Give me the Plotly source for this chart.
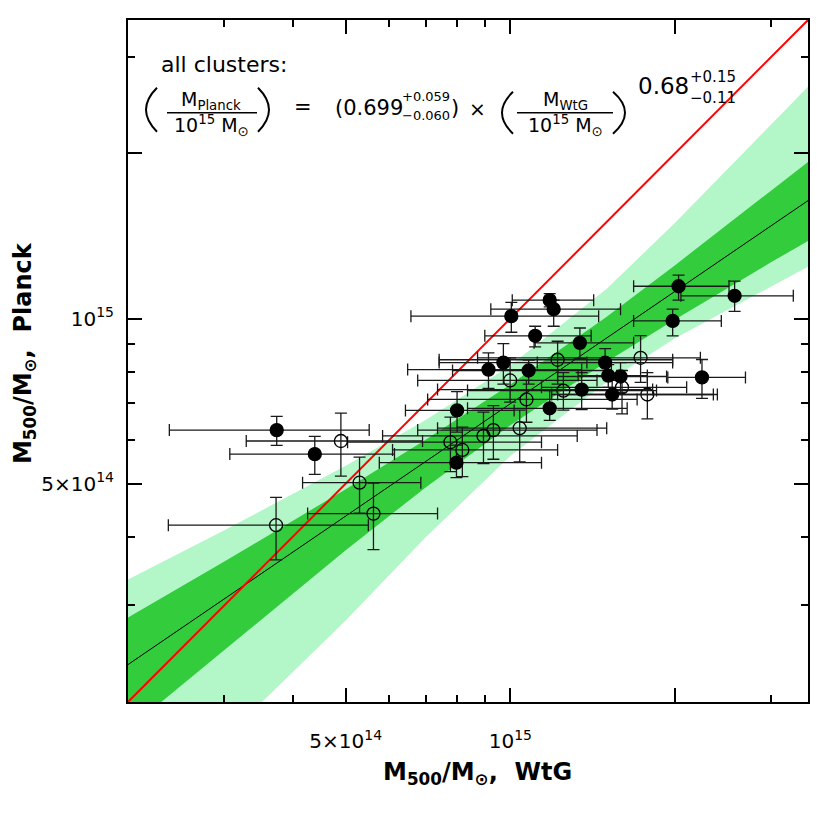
import numpy as np
import plotly.graph_objects as go

# masses in units of 1e14 Msun
# filled symbols
fill_x = [3.74, 4.39, 7.99, 7.97, 9.12, 9.71, 10.04, 11.8, 12.0, 11.1, 10.8, 13.4, 14.9, 15.1, 15.9, 13.5, 15.35, 11.8, 20.3, 19.8, 25.7, 22.4]
fill_xlo = [2.38, 3.07, 6.43, 5.76, 6.49, 7.41, 6.58, 10.08, 9.21, 8.98, 7.84, 11.05, 11.2, 13.3, 12.2, 7.36, 12.2, 8.35, 16.8, 16.8, 20.5, 19.4]
fill_xhi = [5.52, 6.14, 10.16, 11.4, 13.5, 13.8, 14.5, 14.2, 15.9, 14.05, 15.3, 16.8, 19.8, 17.8, 19.3, 18.2, 23.5, 16.35, 25.1, 24.3, 32.9, 26.9]
fill_y = [6.26, 5.66, 6.80, 5.46, 8.07, 8.31, 10.1, 10.8, 10.4, 9.30, 8.04, 9.03, 8.31, 7.87, 7.84, 7.42, 7.27, 6.86, 11.45, 9.90, 11.0, 7.81]
fill_ylo = [5.87, 5.20, 6.21, 5.13, 7.46, 7.59, 9.44, 10.5, 9.68, 8.88, 7.59, 8.45, 7.87, 7.49, 7.33, 6.82, 6.84, 6.52, 10.8, 9.30, 10.3, 7.15]
fill_yhi = [6.63, 6.10, 7.36, 5.88, 8.66, 9.00, 10.7, 11.1, 10.8, 9.68, 8.40, 9.61, 8.81, 8.24, 8.31, 7.97, 7.71, 7.39, 12.0, 10.4, 11.7, 8.42]

# open symbols
open_x = [4.90, 5.30, 5.62, 3.73, 7.77, 8.17, 8.93, 9.31, 10.4, 10.7, 12.5, 12.2, 17.3, 16.0, 17.8, 9.99]
open_xlo = [3.29, 4.17, 4.26, 2.37, 5.04, 6.09, 5.84, 6.77, 7.36, 7.06, 8.35, 7.41, 8.71, 11.4, 11.9, 6.77]
open_xhi = [6.91, 6.86, 7.36, 5.50, 11.4, 12.2, 13.25, 14.4, 15.0, 17.05, 18.5, 19.8, 22.25, 21.0, 23.9, 14.4]
open_y = [5.98, 5.02, 4.41, 4.20, 5.95, 5.76, 6.11, 6.26, 6.31, 7.12, 7.39, 8.41, 8.48, 7.49, 7.27, 7.71]
open_ylo = [5.16, 4.42, 3.79, 3.63, 5.26, 5.15, 5.44, 5.54, 5.48, 6.47, 6.81, 7.59, 7.65, 6.70, 6.56, 7.04]
open_yhi = [6.72, 5.59, 5.01, 4.72, 6.61, 6.34, 6.75, 6.94, 6.81, 7.71, 7.97, 9.09, 9.31, 8.04, 7.97, 8.48]

# fit and confidence bands (1e14 Msun)
band_x = [2, 3, 5, 7, 10, 15, 20, 30, 35]
dark_hi = [2.852, 3.605, 4.884, 6.014, 7.577, 10.07, 12.51, 17.10, 19.29]
dark_lo = [1.783, 2.494, 3.783, 4.921, 6.389, 8.341, 9.959, 12.67, 13.85]
light_hi = [3.343, 4.111, 5.393, 6.532, 8.214, 11.33, 14.94, 22.59, 26.45]
light_lo = [1.200, 1.714, 2.817, 3.991, 5.617, 7.659, 9.209, 11.45, 12.43]
fit_x = [2.0, 35.0]
fit_y = [2.34, 16.4]
one_x = [2.0, 35.0]
one_y = [2.0, 35.0]

E14 = 1e14
OFF = 8  # page margin of the html body
W, H = 814, 814
L, T = 120, 10
PW, PH = 680, 684
R, B = W - L - PW, H - T - PH


def px(x):
    return (x - OFF - L) / PW


def py(y):
    return (H - B - (y - OFF)) / PH


def sc(a):
    return [v * E14 for v in a]


fig = go.Figure()

bx = sc(band_x)
fig.add_trace(go.Scatter(x=bx + bx[::-1], y=sc(light_hi) + sc(light_lo)[::-1], fill="toself",
                         fillcolor="#b3f7c9", line=dict(width=0), mode="lines", hoverinfo="skip"))
fig.add_trace(go.Scatter(x=bx + bx[::-1], y=sc(dark_hi) + sc(dark_lo)[::-1], fill="toself",
                         fillcolor="#33cc3d", line=dict(width=0), mode="lines", hoverinfo="skip"))
fig.add_trace(go.Scatter(x=sc(fit_x), y=sc(fit_y), mode="lines", line=dict(color="black", width=1)))
fig.add_trace(go.Scatter(x=sc(one_x), y=sc(one_y), mode="lines", line=dict(color="#ff0000", width=2)))


def pts(x, xlo, xhi, y, ylo, yhi, symbol):
    return go.Scatter(
        x=sc(x), y=sc(y), mode="markers",
        marker=dict(symbol=symbol, size=13, color="black", line=dict(color="black", width=1.3)),
        error_x=dict(type="data", symmetric=False,
                     array=[(b - a) * E14 for a, b in zip(x, xhi)],
                     arrayminus=[(a - b) * E14 for a, b in zip(x, xlo)],
                     color="#1a1a1a", thickness=1.3, width=6),
        error_y=dict(type="data", symmetric=False,
                     array=[(b - a) * E14 for a, b in zip(y, yhi)],
                     arrayminus=[(a - b) * E14 for a, b in zip(y, ylo)],
                     color="#1a1a1a", thickness=1.3, width=6),
    )


fig.add_trace(pts(open_x, open_xlo, open_xhi, open_y, open_ylo, open_yhi, "circle-open"))
fig.add_trace(pts(fill_x, fill_xlo, fill_xhi, fill_y, fill_ylo, fill_yhi, "circle"))

major = [5e14, 1e15, 2e15]
labels = ["5×10<sup>14</sup>", "10<sup>15</sup>", ""]
minor = [3e14, 4e14, 6e14, 7e14, 8e14, 9e14, 3e15]
axis = dict(type="log", range=[np.log10(2e14), np.log10(3.5e15)], showgrid=False, zeroline=False,
            showline=True, linecolor="black", linewidth=2, mirror="allticks",
            ticks="inside", ticklen=14, tickwidth=1.5, tickcolor="black",
            tickvals=major, ticktext=labels,
            minor=dict(tickvals=minor, ticks="inside", ticklen=7, tickwidth=1.5, tickcolor="black"),
            tickfont=dict(size=20, color="black"))

fig.update_layout(
    width=W, height=H, margin=dict(l=L, r=R, t=T, b=B),
    plot_bgcolor="white", paper_bgcolor="white", showlegend=False,
    font=dict(family="DejaVu Sans", color="black"),
    xaxis=dict(axis, ticklabelstandoff=20),
    yaxis=dict(axis, ticklabelstandoff=8),
)

ann = []


def txt(x, y, s, size, xa="center"):
    ann.append(dict(x=px(x), y=py(y), xref="paper", yref="paper", text=s, showarrow=False,
                    xanchor=xa, yanchor="middle", borderpad=0, font=dict(size=size, color="black")))


txt(160, 63, "all clusters:", 22, "left")
txt(211, 99, "M<sub>Planck</sub>", 19)
txt(211, 124, "10<sup>15</sup> M<sub>⊙</sub>", 19)
txt(303, 105, "=", 21)
txt(404, 106, "(0.699", 21, "right")
txt(401, 95, "+0.059", 13, "left")
txt(401, 114, "−0.060", 13, "left")
txt(450, 106, ")", 21, "left")
txt(478, 107, "×", 20)
txt(565, 99, "M<sub>WtG</sub>", 19)
txt(565, 124, "10<sup>15</sup> M<sub>⊙</sub>", 19)
txt(690, 84, "0.68", 23, "right")
txt(689, 75, "+0.15", 15, "left")
txt(689, 96, "−0.11", 15, "left")
txt(478, 774, "<b>M<sub>500</sub>/M<sub>⊙</sub>,  WtG</b>", 24)
ann.append(dict(x=px(24), y=py(352), xref="paper", yref="paper", showarrow=False, textangle=-90,
                text="<b>M<sub>500</sub>/M<sub>⊙</sub>,  Planck</b>", xanchor="center", yanchor="middle",
                font=dict(size=24, color="black")))
fig.update_layout(annotations=ann)

shapes = []
# fraction bars
for x0, x1 in [(167, 257), (517, 613)]:
    shapes.append(dict(type="line", xref="paper", yref="paper", x0=px(x0), x1=px(x1), y0=py(111), y1=py(111),
                       line=dict(color="black", width=1.5)))


def paren(xe, xb, y0, y1):
    ym = (y0 + y1) / 2
    xc = 2 * xb - xe
    return dict(type="path", xref="paper", yref="paper",
                path=f"M {px(xe)},{py(y0)} Q {px(xc)},{py(ym)} {px(xe)},{py(y1)}",
                line=dict(color="black", width=2))


shapes += [paren(157, 146, 86, 130), paren(258, 269, 86, 130),
           paren(513, 502, 90, 132), paren(613, 625, 90, 132)]
fig.update_layout(shapes=shapes)

fig.write_html("out.html")
